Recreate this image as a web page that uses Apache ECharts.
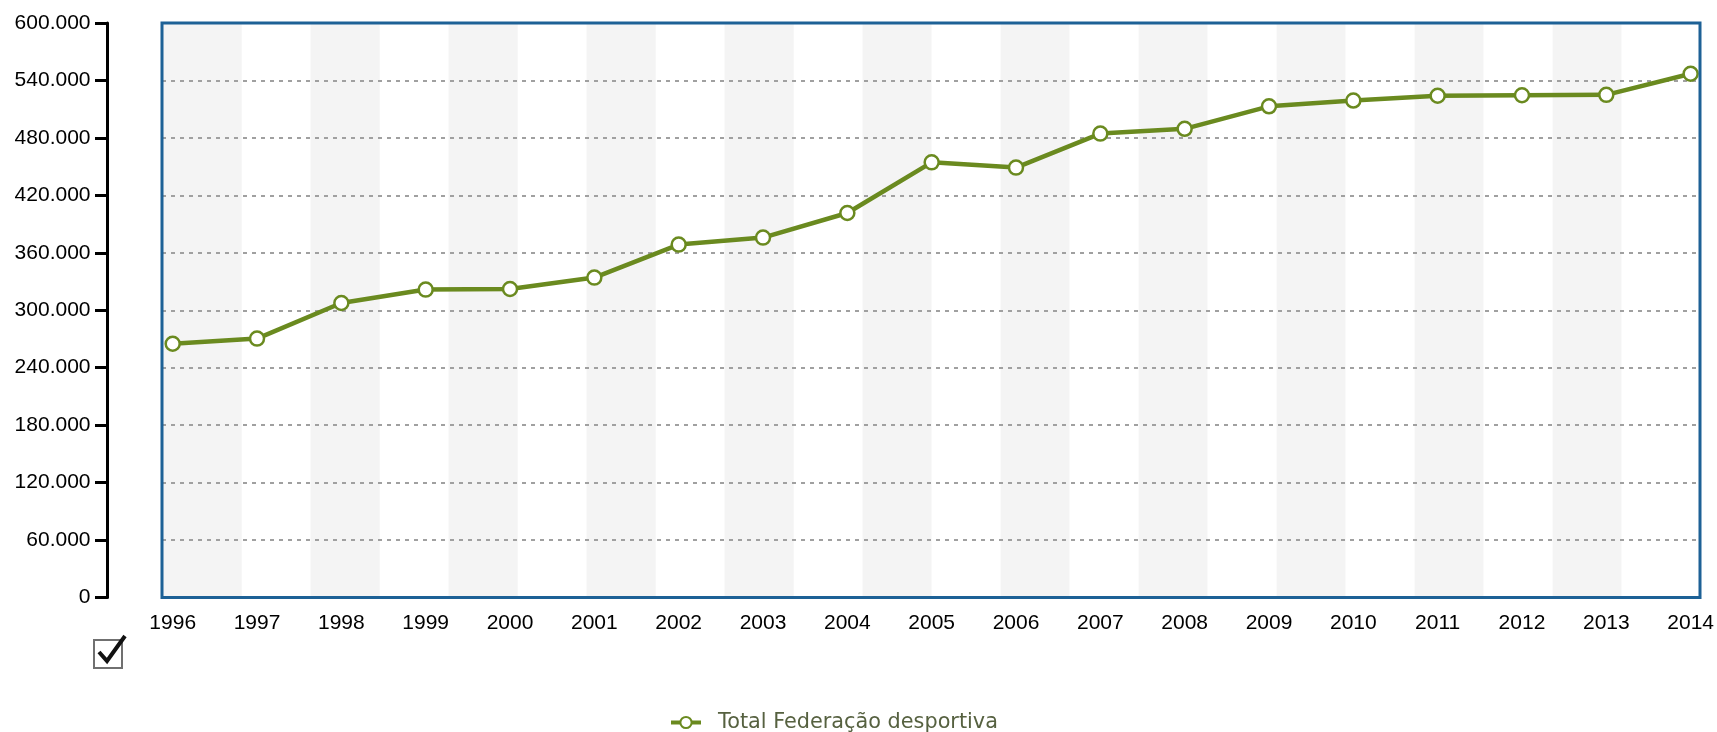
<!DOCTYPE html>
<html>
<head>
<meta charset="utf-8">
<script src="https://cdn.jsdelivr.net/npm/echarts@6/dist/echarts.min.js"></script>
<style>
html,body{margin:0;padding:0;background:#fff;}
#chart{width:1717px;height:732px;}
</style>
</head>
<body>
<div id="chart"></div>
<script>
const years = ['1996','1997','1998','1999','2000','2001','2002','2003','2004','2005','2006','2007','2008','2009','2010','2011','2012','2013','2014'];
const totalFederacao = [265000,270400,307600,321600,322200,334100,368600,375900,401600,454500,449000,484500,489500,513000,519000,524000,524500,525000,547000];
const seriesName = 'Total Federação desportiva';
const yTicks = {min: 0, max: 600000, interval: 60000};
const bandCount = 22;

const green = '#6a8a1f';
const blue = '#1d6196';
const band = '#f4f4f4';

function fmt(v){ return String(v).replace(/\B(?=(\d{3})+(?!\d))/g, '.'); }

const chart = echarts.init(document.getElementById('chart'), null, {renderer:'canvas'});
const box = {left: 162, top: 23, right: 17, bottom: 134.5};
chart.setOption({
  animation: false,
  backgroundColor: '#fff',
  grid: [
    {left: 172.7, right: 26.3, top: box.top, bottom: box.bottom, show: false},
    {left: box.left, right: box.right, top: box.top, bottom: box.bottom, show: true, borderWidth: 0,
     backgroundColor: {type:'linear', x:0, y:0, x2:1, y2:0, colorStops:[
       {offset:0, color: band},{offset:0.5, color: band},{offset:0.5, color:'#fff'},{offset:1, color:'#fff'}]}},
    {left: box.left, right: box.right, top: box.top, bottom: box.bottom, show: true, z: 10,
     backgroundColor: 'transparent', borderColor: blue, borderWidth: 3}
  ],
  xAxis: [
    {type:'category', gridIndex:0, data: years, boundaryGap:false, z: 2,
     axisLine:{show:false}, axisTick:{show:false}, splitLine:{show:false},
     axisLabel:{margin: 15, fontSize: 21, color:'#000', fontFamily:'Liberation Sans, Arial, sans-serif'}},
    {type:'value', gridIndex:0, min:0, max:bandCount, interval:1, z: 1,
     axisLine:{show:false}, axisTick:{show:false}, axisLabel:{show:false}, splitLine:{show:false},
     splitArea:{show:true, areaStyle:{color:[band, '#ffffff']}}},
    {type:'value', gridIndex:2, show:false},
    {type:'value', gridIndex:1, show:false, min:0, max:1}
  ],
  yAxis: [
    {type:'value', gridIndex:1, min:yTicks.min, max:yTicks.max, interval:yTicks.interval, position:'left', offset:54.5, z: 2,
     axisLine:{show:true, onZero:false, lineStyle:{color:'#000', width:3}},
     axisTick:{show:true, length:12.5, lineStyle:{color:'#000', width:3}},
     axisLabel:{margin:17, fontSize:21, color:'#000', fontFamily:'Liberation Sans, Arial, sans-serif', formatter: fmt},
     splitLine:{show:true, lineStyle:{color:'#a0a0a0', width:2, type:[4,5]}}},
    {type:'value', gridIndex:0, min:yTicks.min, max:yTicks.max, show:false},
    {type:'value', gridIndex:2, show:false}
  ],
  legend: {
    data:[seriesName], left: 664, top: 707, itemWidth: 30, itemHeight: 14,
    lineStyle:{width:4},
    textStyle:{fontFamily:'DejaVu Sans, Verdana, sans-serif', fontSize: 20.8, color:'#566140', padding:[0,0,0,12]}
  },
  graphic: [
    {type:'rect', left: 93, top: 639, shape:{width:28, height:28}, style:{fill:'#fff', stroke:'#707070', lineWidth:2}},
    {type:'polyline', shape:{points:[[99,652],[107,661],[125,636]]}, style:{fill:null, stroke:'#111', lineWidth:4}}
  ],
  series: [{
    name: seriesName, type:'line', xAxisIndex:0, yAxisIndex:1, data: totalFederacao, z: 3,
    symbol:'circle', symbolSize: 14,
    lineStyle:{color: green, width: 4.5},
    itemStyle:{color:'#fff', borderColor: green, borderWidth: 2.5}
  }]
});
</script>
</body>
</html>
